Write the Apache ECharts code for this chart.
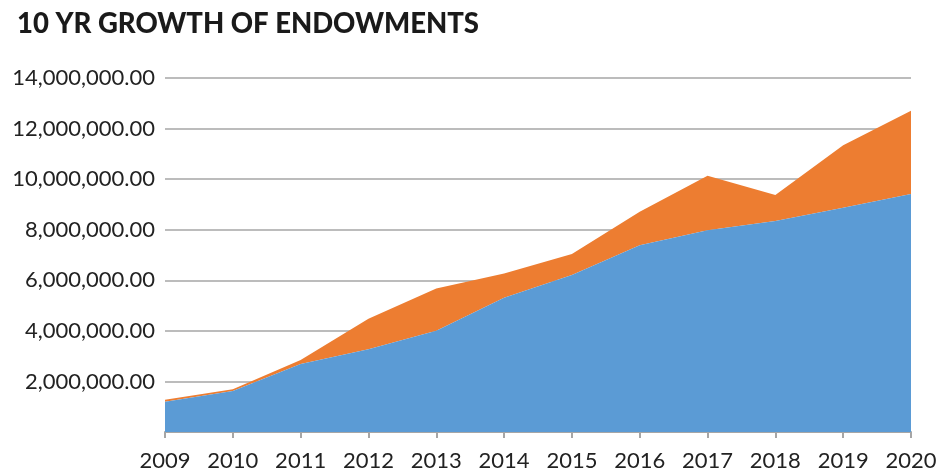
<!DOCTYPE html>
<html>
<head>
<meta charset="utf-8">
<script src="https://cdn.jsdelivr.net/npm/echarts@6/dist/echarts.min.js"></script>
<style>
  html, body { margin: 0; padding: 0; background: #fff; }
  #chart { width: 948px; height: 473px; }
</style>
</head>
<body>
<div id="chart"></div>
<script>
// years on the x axis
const years = ["2009", "2010", "2011", "2012", "2013", "2014", "2015", "2016", "2017", "2018", "2019", "2020"];
// bottom (blue) layer
const baseValues = [1200000, 1620000, 2690000, 3270000, 4000000, 5310000, 6210000, 7390000, 7980000, 8340000, 8870000, 9410000];
// top (orange) layer, stacked on the blue one
const growthValues = [80000, 70000, 160000, 1210000, 1680000, 960000, 830000, 1320000, 2150000, 1030000, 2470000, 3290000];
// y axis ticks
const yTicks = [0, 2000000, 4000000, 6000000, 8000000, 10000000, 12000000, 14000000];

const chart = echarts.init(document.getElementById("chart"));

function fmt(v) {
    if (v === 0) return "";
    return v.toLocaleString("en-US", { minimumFractionDigits: 2, maximumFractionDigits: 2 });
}

const option = {
    backgroundColor: "#fff",
    animation: false,
    title: {
        text: "10 YR GROWTH OF ENDOWMENTS",
        left: 12,
        top: 5,
        textStyle: {
            fontFamily: "Lato",
            fontWeight: 900,
            fontSize: 27.5,
            color: "#1a1a1a",
        },
    },
    grid: {
        left: 165,
        right: 37,
        top: 78,
        bottom: 41,
    },
    xAxis: {
        type: "category",
        boundaryGap: false,
        data: years,
        axisLine: { lineStyle: { color: "#a6a6a6", width: 2 } },
        axisTick: { show: true, length: 6, lineStyle: { color: "#a6a6a6", width: 2 } },
        axisLabel: {
            fontFamily: "Lato",
            fontSize: 22,
            color: "#222",
            margin: 18,
        },
    },
    yAxis: {
        type: "value",
        min: yTicks[0],
        max: yTicks[yTicks.length - 1],
        interval: 2000000,
        axisLine: { show: false },
        axisTick: { show: false },
        axisLabel: {
            fontFamily: "Lato",
            fontSize: 22,
            color: "#222",
            margin: 10,
            formatter: fmt,
        },
        splitLine: { lineStyle: { color: "#a6a6a6", width: 1.5 } },
    },
    series: [
        {
            name: "Base",
            type: "line",
            stack: "total",
            data: baseValues,
            symbol: "none",
            lineStyle: { width: 0 },
            areaStyle: { color: "#5b9bd5", opacity: 1 },
            z: 3,
        },
        {
            name: "Growth",
            type: "line",
            stack: "total",
            data: growthValues,
            symbol: "none",
            lineStyle: { width: 0 },
            areaStyle: { color: "#ed7d31", opacity: 1 },
            z: 2,
        },
    ],
};

chart.setOption(option);
</script>
</body>
</html>
